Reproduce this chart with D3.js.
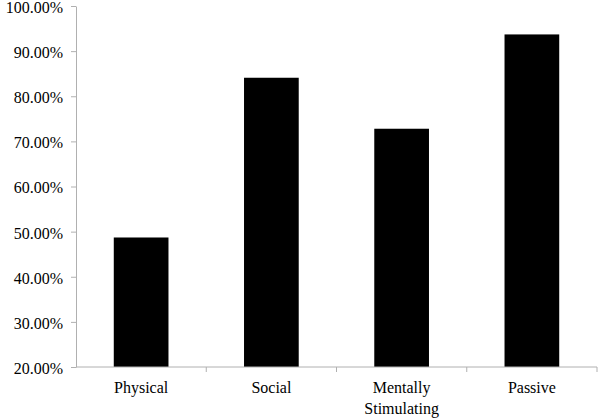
<!DOCTYPE html>
<meta charset="utf-8">
<title>Activity bars</title>
<style>
body {
  margin: 0;
  background: #fff;
}
.axis path, .axis line {
  stroke: #b0b0b0;
}
</style>
<svg></svg>
<script src="https://cdn.jsdelivr.net/npm/d3@7"></script>
<script>
var categories = ["Physical", "Social", "Mentally Stimulating", "Passive"];
var values = [0.487, 0.841, 0.728, 0.937];
var yTicks = [0.2, 0.3, 0.4, 0.5, 0.6, 0.7, 0.8, 0.9, 1.0];

var width = 600,
    height = 420;
var margin = {top: 6, right: 3, bottom: 53, left: 76};
var serif = "'Times New Roman', Times, 'Liberation Serif', 'DejaVu Serif', 'Noto Serif', serif";

var svg = d3.select("svg")
    .attr("width", width)
    .attr("height", height);

var x = d3.scaleBand()
    .domain(categories)
    .range([margin.left, width - margin.right]);

var y = d3.scaleLinear()
    .domain([0.2, 1.0])
    .range([height - margin.bottom, margin.top]);

var barWidth = x.bandwidth() * 0.42;

svg.append("g")
  .selectAll("rect")
  .data(categories)
  .enter().append("rect")
    .attr("x", function(d) { return x(d) + (x.bandwidth() - barWidth) / 2; })
    .attr("y", function(d, i) { return y(values[i]); })
    .attr("width", barWidth)
    .attr("height", function(d, i) { return y(0.2) - y(values[i]); })
    .attr("fill", "#000");

// y axis
svg.append("g")
    .attr("class", "axis")
    .attr("transform", "translate(" + margin.left + ",0)")
    .call(d3.axisLeft(y).tickValues(yTicks).tickFormat(d3.format(".2%")).tickSize(5).tickSizeOuter(0))
    .attr("font-family", serif)
    .attr("font-size", 16)
  .selectAll("text")
    .attr("x", -13)
    .attr("dy", "0.4em")
    .attr("fill", "#000");

// x axis, ticks between the categories
var xAxis = svg.append("g")
    .attr("class", "axis")
    .attr("font-family", serif)
    .attr("font-size", 16)
    .attr("transform", "translate(0," + y(0.2) + ")");

xAxis.append("line")
    .attr("x1", margin.left)
    .attr("x2", width - margin.right)
    .attr("y1", 0)
    .attr("y2", 0);

xAxis.selectAll(".sep")
    .data(categories)
  .enter().append("line")
    .attr("class", "sep")
    .attr("x1", function(d) { return x(d) + x.bandwidth(); })
    .attr("x2", function(d) { return x(d) + x.bandwidth(); })
    .attr("y1", 0)
    .attr("y2", 5);

var labels = xAxis.selectAll(".lab")
    .data(categories)
  .enter().append("text")
    .attr("class", "lab")
    .attr("text-anchor", "middle")
    .attr("x", function(d) { return x(d) + x.bandwidth() / 2; })
    .attr("y", 26)
    .attr("fill", "#000");

labels.each(function(d) {
  var words = d === "Mentally Stimulating" ? ["Mentally", "Stimulating"] : [d];
  var t = d3.select(this);
  words.forEach(function(w, i) {
    t.append("tspan")
        .attr("x", x(d) + x.bandwidth() / 2)
        .attr("dy", i ? 21 : 0)
        .text(w);
  });
});
</script>
